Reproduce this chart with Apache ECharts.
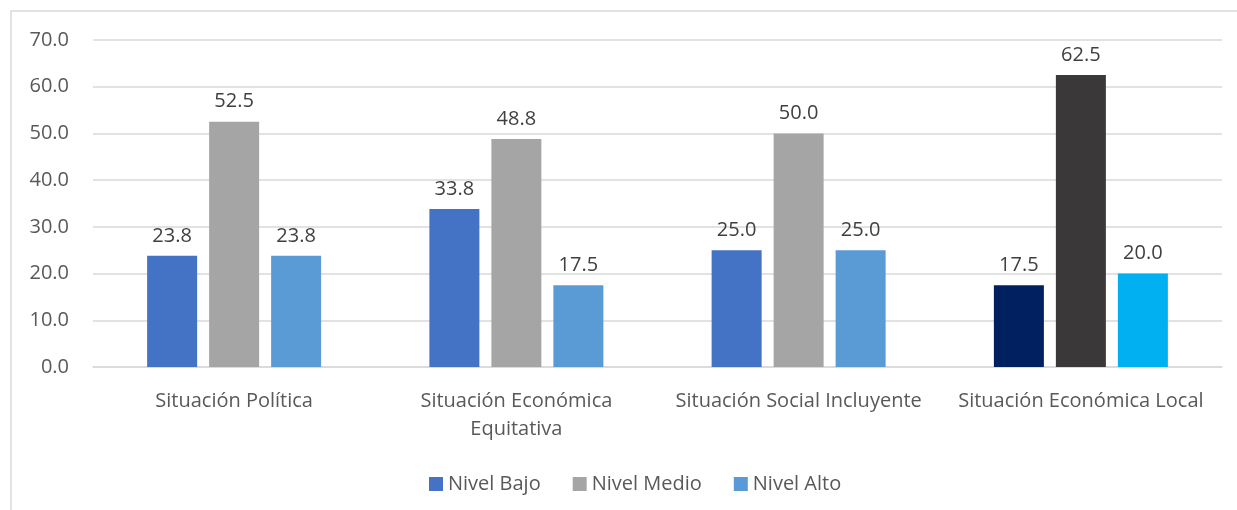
<!DOCTYPE html>
<html>
<head>
<meta charset="utf-8">
<script src="https://cdn.jsdelivr.net/npm/echarts@6/dist/echarts.min.js"></script>
<style>
html,body{margin:0;padding:0;background:#fff;}
#chart{width:1237px;height:510px;}
</style>
</head>
<body>
<div id="chart"></div>
<script>
const categories = ["Situación Política", "Situación Económica\nEquitativa", "Situación Social Incluyente", "Situación Económica Local"];
const seriesNames = ["Nivel Bajo", "Nivel Medio", "Nivel Alto"];
const nivelBajo = [23.8, 33.8, 25.0, 17.5];
const nivelMedio = [52.5, 48.8, 50.0, 62.5];
const nivelAlto = [23.8, 17.5, 25.0, 20.0];
const baseColors = ["#4472C4", "#A5A5A5", "#5B9BD5"];
const lastGroupColors = ["#002060", "#3A3838", "#00B0F0"];
const yTicks = [0, 10, 20, 30, 40, 50, 60, 70];

const FONT = "Open Sans";
const FS = 20;
const values = [nivelBajo, nivelMedio, nivelAlto];

const series = values.map((vals, si) => ({
  name: seriesNames[si],
  type: "bar",
  barWidth: 50,
  barGap: "24%",
  itemStyle: { color: baseColors[si] },
  label: {
    show: true,
    position: "top",
    distance: 10,
    color: "#404040",
    fontFamily: FONT,
    fontSize: FS,
    formatter: p => p.value.toFixed(1)
  },
  data: vals.map((v, i) => i === 3 ? { value: v, itemStyle: { color: lastGroupColors[si] } } : v)
}));

const chart = echarts.init(document.getElementById("chart"), null, { renderer: "canvas" });
chart.setOption({
  animation: false,
  backgroundColor: "#fff",
  textStyle: { fontFamily: FONT },
  graphic: [{
    type: "rect",
    shape: { x: 11, y: 11, width: 1240, height: 540 },
    style: { fill: "none", stroke: "#D9D9D9", lineWidth: 1.5 },
    silent: true,
    z: -1
  }],
  legend: {
    data: seriesNames,
    top: 469,
    left: 424,
    icon: "rect",
    itemWidth: 14,
    itemHeight: 14,
    itemGap: 32,
    textStyle: { color: "#595959", fontFamily: FONT, fontSize: FS }
  },
  grid: { left: 93, right: 15, top: 40, bottom: 143, containLabel: false },
  xAxis: {
    type: "category",
    data: categories,
    axisLine: { show: true, lineStyle: { color: "#D9D9D9", width: 1.5 } },
    axisTick: { show: false },
    axisLabel: {
      color: "#595959",
      fontFamily: FONT,
      fontSize: FS,
      margin: 20,
      lineHeight: 28,
      interval: 0
    }
  },
  yAxis: {
    type: "value",
    min: 0,
    max: 70,
    interval: 10,
    axisLine: { show: false },
    axisTick: { show: false },
    splitLine: { lineStyle: { color: "#D9D9D9", width: 1.5 } },
    axisLabel: {
      color: "#595959",
      fontFamily: FONT,
      fontSize: FS,
      margin: 24,
      formatter: v => yTicks.includes(v) ? v.toFixed(1) : ""
    }
  },
  series: series
});
</script>
</body>
</html>
